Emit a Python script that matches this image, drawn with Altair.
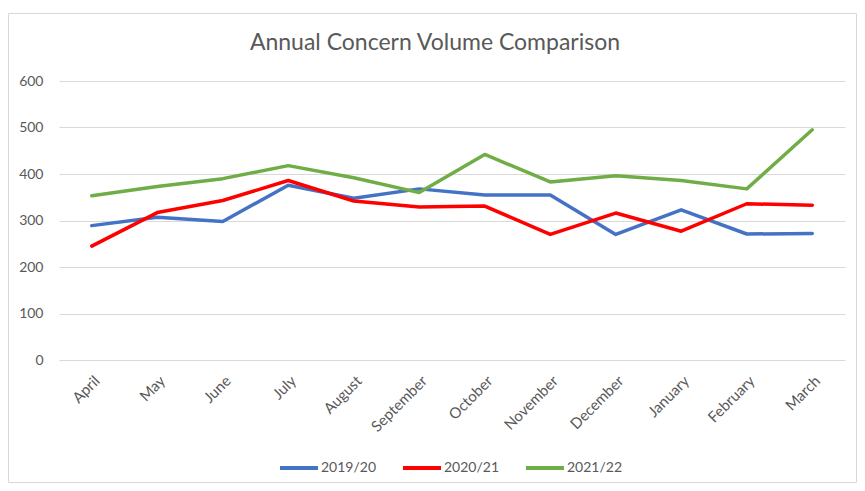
import altair as alt
import pandas as pd

months = ["April", "May", "June", "July", "August", "September",
          "October", "November", "December", "January", "February", "March"]
series_names = ["2019/20", "2020/21", "2021/22"]
v2019 = [289, 307, 298, 376, 348, 368, 355, 355, 270, 323, 271, 272]
v2020 = [245, 317, 343, 386, 342, 329, 331, 270, 316, 277, 336, 333]
v2021 = [353, 373, 390, 418, 392, 360, 442, 383, 396, 386, 368, 495]
colors = ["#4472C4", "#FF0000", "#70AD47"]
title_text = "Annual Concern Volume Comparison"

rows = []
for name, vals in zip(series_names, [v2019, v2020, v2021]):
    for m, v in zip(months, vals):
        rows.append({"Month": m, "Series": name, "Value": v})
df = pd.DataFrame(rows)

FONT = "Lato"
GREY = "#595959"

lines = alt.Chart(df).mark_line(strokeWidth=3.5, strokeCap="round", strokeJoin="round").encode(
    x=alt.X("Month:N", sort=months, title=None,
            axis=alt.Axis(labelAngle=-45, ticks=False, domain=False, grid=False,
                          labelPadding=13, labelFontSize=15, labelColor=GREY, labelFont=FONT)),
    y=alt.Y("Value:Q", title=None,
            scale=alt.Scale(domain=[0, 600], nice=False),
            axis=alt.Axis(values=[0, 100, 200, 300, 400, 500, 600], ticks=False, domain=False,
                          gridColor="#D9D9D9", gridWidth=1, labelPadding=16,
                          labelFontSize=14, labelColor=GREY, labelFont=FONT)),
    color=alt.Color("Series:N", sort=series_names,
                    scale=alt.Scale(domain=series_names, range=colors),
                    legend=alt.Legend(orient="none", legendX=219, legendY=366,
                                      direction="horizontal", title=None,
                                      symbolType="stroke", symbolSize=1444,
                                      symbolStrokeWidth=4, labelFontSize=14,
                                      labelColor=GREY, labelFont=FONT,
                                      columnPadding=18, labelOffset=1)),
    order=alt.Order("Series:N"),
)

title = alt.Chart(pd.DataFrame({"t": [title_text]})).mark_text(
    fontSize=23, font=FONT, color=GREY, align="center", baseline="alphabetic"
).encode(text="t:N", x=alt.value(376), y=alt.value(-31))

border = alt.Chart(pd.DataFrame({"a": [0]})).mark_rect(
    fill="transparent", stroke="#D9D9D9", strokeWidth=1
).encode(x=alt.value(-50.5), x2=alt.value(797.5), y=alt.value(-67.5), y2=alt.value(401.5))

chart = alt.layer(border, lines, title).properties(
    width=786, height=279,
    background="white",
    autosize=alt.AutoSizeParams(type="none"),
    padding={"left": 51, "top": 73, "right": 12, "bottom": 123},
).configure_view(stroke="transparent", strokeWidth=0)

chart.save("out.html", embed_options={"renderer": "svg", "actions": False})
